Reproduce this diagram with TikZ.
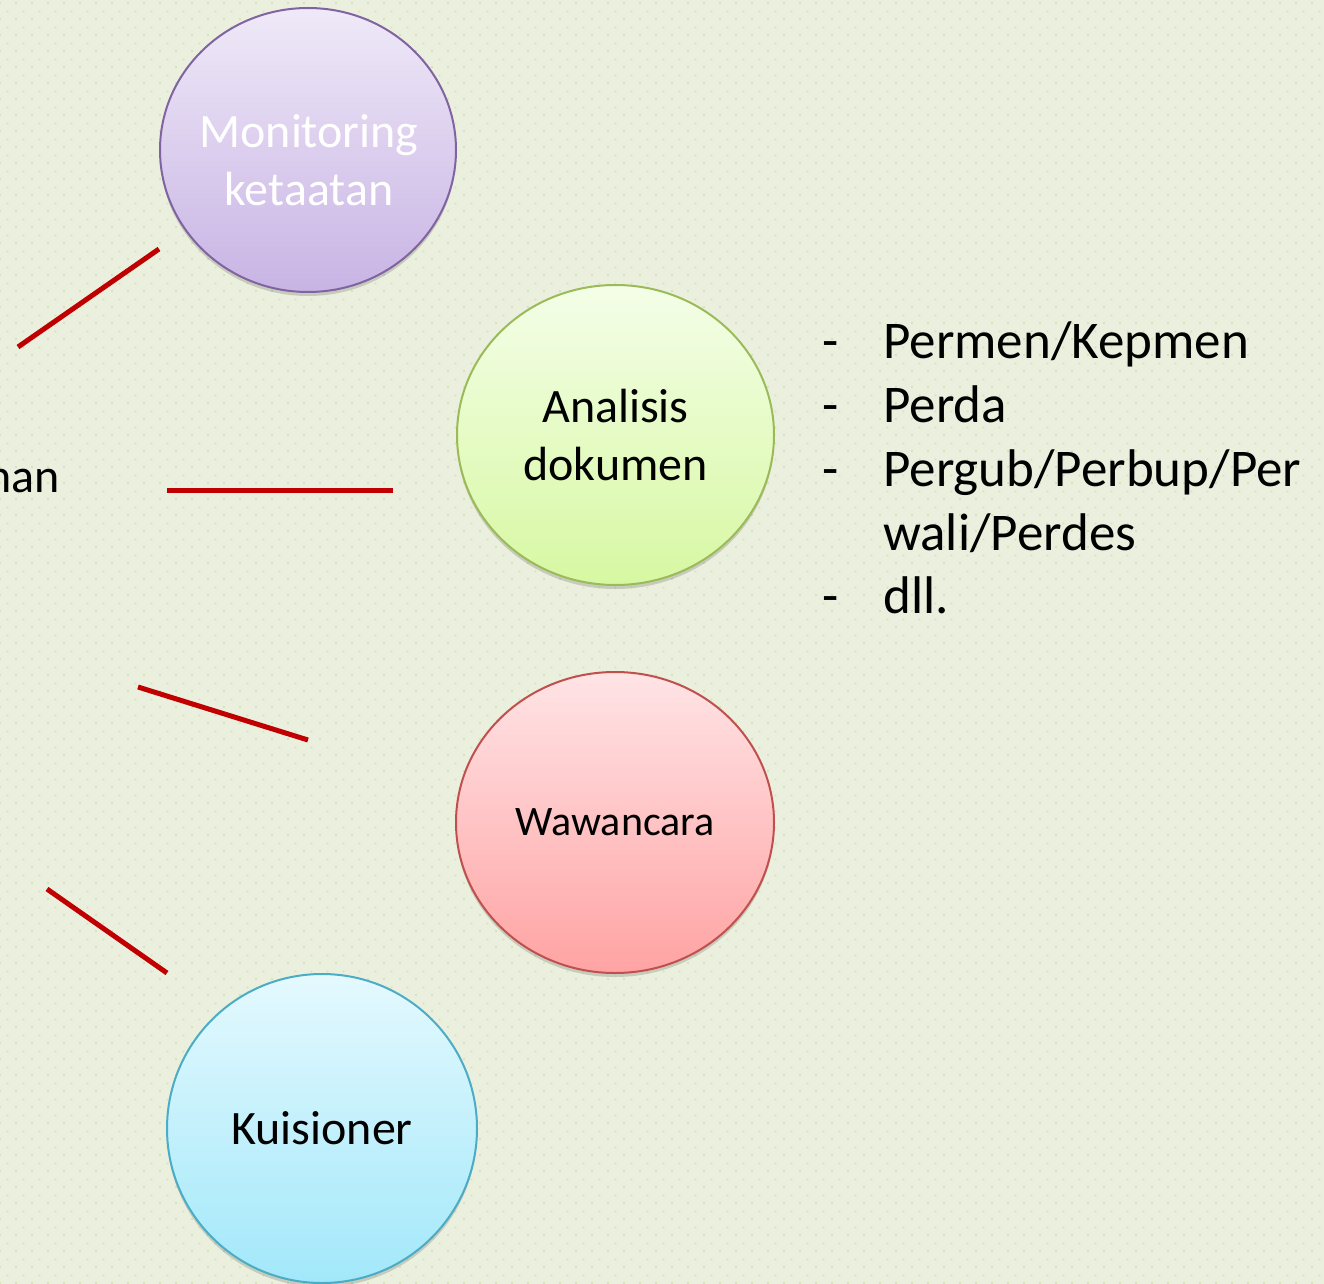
\documentclass[tikz,border=0pt]{standalone}
\usepackage{fontspec}
\setmainfont{Carlito}
\usetikzlibrary{shapes.geometric,shadows,patterns.meta}

\definecolor{bggreen}{HTML}{EBEFDE}
\definecolor{dotgreen}{HTML}{D6E2BE}
\definecolor{linkred}{HTML}{C00000}
\definecolor{monline}{HTML}{8064A2}
\definecolor{montop}{HTML}{EFE9F8}
\definecolor{monbot}{HTML}{C8B4E4}
\definecolor{analine}{HTML}{9BBB59}
\definecolor{anatop}{HTML}{F4FEE8}
\definecolor{anabot}{HTML}{D7F8A2}
\definecolor{wawline}{HTML}{C0504D}
\definecolor{wawtop}{HTML}{FFE4E6}
\definecolor{wawbot}{HTML}{FFA3A3}
\definecolor{kuiline}{HTML}{4BACC6}
\definecolor{kuitop}{HTML}{E4F9FE}
\definecolor{kuibot}{HTML}{A2E8FA}

% staggered dot texture of the slide background (16px tile)
\tikzdeclarepattern{
  name=bgdots,
  type=colored,
  bounding box={(0pt,0pt) and (12pt,12pt)},
  tile size={(12pt,12pt)},
  code={
    \fill[dotgreen] (0pt,0pt) rectangle (1.5pt,1.5pt);
    \fill[dotgreen] (6pt,6pt) rectangle (7.5pt,7.5pt);
  }
}

\tikzset{
  bubble/.style={ellipse, draw, line width=1.5pt, inner sep=0pt, align=center,
    font=\fontsize{36pt}{43pt}\selectfont,
    drop shadow={shadow xshift=0pt, shadow yshift=-3pt, opacity=0.15, fill=black}},
  bubbletext/.style={inner sep=0pt, align=center, font=\fontsize{36pt}{43pt}\selectfont},
  link/.style={draw=linkred, line width=3.75pt},
  listtxt/.style={inner sep=0pt, anchor=base west, font=\fontsize{39.75pt}{48pt}\selectfont},
}

\begin{document}
\begin{tikzpicture}[x=0.75pt, y=-0.75pt]
  \useasboundingbox (0,0) rectangle (1324,1284);
  \clip (0,0) rectangle (1324,1284);
  \fill[bggreen] (0,0) rectangle (1324,1284);
  \fill[pattern=bgdots] (0,0) rectangle (1324,1284);

  % method bubbles
  \node[bubble, minimum width=222pt, minimum height=213pt,
        draw=monline, top color=montop, bottom color=monbot]
        (mon) at (308,150) {};
  \node[bubbletext, text=white] (montext) at (309,160) {Monitoring\\ketaatan};
  \node[bubble, minimum width=237.75pt, minimum height=225pt,
        draw=analine, top color=anatop, bottom color=anabot]
        (ana) at (615.5,435) {Analisis\\dokumen};
  \node[bubble, minimum width=238.5pt, minimum height=225.75pt,
        draw=wawline, top color=wawtop, bottom color=wawbot,
        font=\fontsize{31.5pt}{38pt}\selectfont]
        (waw) at (615,822.5) {Wawancara};
  \node[bubble, minimum width=232.5pt, minimum height=231.75pt,
        draw=kuiline, top color=kuitop, bottom color=kuibot]
        (kui) at (322,1128.5) {Kuisioner};

  % text running in from the left edge
  \node[inner sep=0pt, anchor=base east, font=\fontsize{36pt}{43pt}\selectfont]
        (nan) at (60,492) {nan};

  % red connector strokes
  \coordinate (l1a) at (18,347);  \coordinate (l1b) at (159,249);
  \coordinate (l2a) at (167,490); \coordinate (l2b) at (393,490);
  \coordinate (l3a) at (138,687); \coordinate (l3b) at (308,740);
  \coordinate (l4a) at (47,889);  \coordinate (l4b) at (167,973);
  \draw[link] (l1a) -- (l1b);
  \draw[link] (l2a) -- (l2b);
  \draw[link] (l3a) -- (l3b);
  \draw[link] (l4a) -- (l4b);

  % list of regulation documents
  \node[listtxt] (d1) at (822,358) {-};
  \node[listtxt] (t1) at (883,358) {Permen/Kepmen};
  \node[listtxt] (d2) at (822,422) {-};
  \node[listtxt] (t2) at (883,422) {Perda};
  \node[listtxt] (d3) at (822,486) {-};
  \node[listtxt] (t3) at (883,486) {Pergub/Perbup/Per};
  \node[listtxt] (t4) at (883,550) {wali/Perdes};
  \node[listtxt] (d5) at (822,613) {-};
  \node[listtxt] (t5) at (883,613) {dll.};
\end{tikzpicture}
\end{document}
